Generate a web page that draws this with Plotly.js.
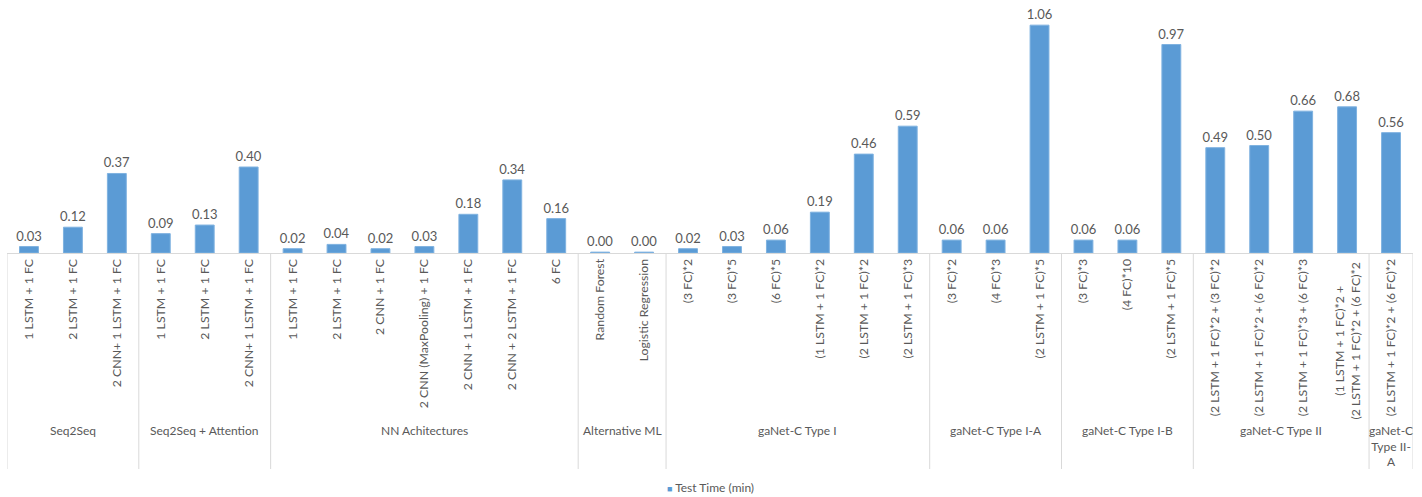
<!DOCTYPE html>
<html>
<head>
<meta charset="utf-8">
<script src="https://cdn.plot.ly/plotly-3.0.1.min.js"></script>
<style>
  html, body { margin: 0; padding: 0; background: #ffffff; }
  #chart { width: 1422px; height: 497px; }
</style>
</head>
<body>
<div id="chart"></div>
<script>
// Model architectures, grouped by family
const modelLabels = [
  '1 LSTM + 1 FC', '2 LSTM + 1 FC', '2 CNN+ 1 LSTM + 1 FC',
  '1 LSTM + 1 FC', '2 LSTM + 1 FC', '2 CNN+ 1 LSTM + 1 FC',
  '1 LSTM + 1 FC', '2 LSTM + 1 FC', '2 CNN + 1 FC', '2 CNN (MaxPooling) + 1 FC',
  '2 CNN + 1 LSTM + 1 FC', '2 CNN + 2 LSTM + 1 FC', '6 FC',
  'Random Forest', 'Logistic Regression',
  '(3 FC)*2', '(3 FC)*5', '(6 FC)*5', '(1 LSTM + 1 FC)*2', '(2 LSTM + 1 FC)*2', '(2 LSTM + 1 FC)*3',
  '(3 FC)*2', '(4 FC)*3', '(2 LSTM + 1 FC)*5',
  '(3 FC)*3', '(4 FC)*10', '(2 LSTM + 1 FC)*5',
  '(2 LSTM + 1 FC)*2 + (3 FC)*2', '(2 LSTM + 1 FC)*2 + (6 FC)*2',
  '(2 LSTM + 1 FC)*3 + (6 FC)*3',
  '(1 LSTM + 1 FC)*2 +<br>(2 LSTM + 1 FC)*2 + (6 FC)*2',
  '(2 LSTM + 1 FC)*2 + (6 FC)*2'
];

// Test time in minutes
const testTime = [
  0.03, 0.12, 0.37,
  0.09, 0.13, 0.40,
  0.02, 0.04, 0.02, 0.03, 0.18, 0.34, 0.16,
  0.004, 0.004,
  0.02, 0.03, 0.06, 0.19, 0.46, 0.59,
  0.06, 0.06, 1.06,
  0.06, 0.06, 0.97,
  0.49, 0.50, 0.66, 0.68,
  0.56
];

const groupNames = [
  'Seq2Seq', 'Seq2Seq + Attention', 'NN Achitectures', 'Alternative ML',
  'gaNet-C Type I', 'gaNet-C Type I-A', 'gaNet-C Type I-B', 'gaNet-C Type II',
  'gaNet-C<br>Type II-<br>A'
];
const groupSizes = [3, 3, 7, 2, 6, 3, 3, 4, 1];

const seriesName = 'Test Time (min)';

const textGray = '#595959';
const lineGray = '#D9D9D9';
const barBlue = '#5B9BD5';
const fontFam = 'Lato, "Open Sans", sans-serif';

const xIdx = modelLabels.map((_, i) => i);

const plotH = 253;
const toPaper = px => (plotH - px) / plotH;

const shapes = [];
const annotations = [];

// Single-line labels go on the axis; wrapped labels are centred annotations
const axisText = modelLabels.map(t => (t.indexOf('<br>') >= 0 ? '' : t));
modelLabels.forEach((t, i) => {
  if (t.indexOf('<br>') < 0) return;
  annotations.push({
    xref: 'x', yref: 'paper',
    x: i, y: toPaper(261),
    xanchor: 'center', yanchor: 'top',
    textangle: -90, align: 'center',
    text: t, showarrow: false,
    font: { family: fontFam, size: 12.3, color: textGray }
  });
});

const trace = {
  type: 'bar',
  x: xIdx,
  y: testTime,
  width: 0.43,
  name: seriesName,
  marker: { color: barBlue, line: { color: '#7FB2E0', width: 1 } },
  texttemplate: '%{y:.2f}',
  textposition: 'outside',
  constraintext: 'none',
  cliponaxis: false,
  textfont: { family: fontFam, size: 13, color: textGray },
  hoverinfo: 'x+y'
};

// Group separators and group captions under the category labels
let start = 0;
shapes.push({
  type: 'line', xref: 'x', yref: 'paper',
  x0: -0.5, x1: -0.5, y0: 0, y1: toPaper(469),
  line: { color: lineGray, width: 1 }
});
groupNames.forEach((g, k) => {
  const end = start + groupSizes[k];
  shapes.push({
    type: 'line', xref: 'x', yref: 'paper',
    x0: end - 0.5, x1: end - 0.5, y0: 0, y1: toPaper(469),
    line: { color: lineGray, width: 1 }
  });
  annotations.push({
    xref: 'x', yref: 'paper',
    x: (start + end - 1) / 2, y: toPaper(421),
    xanchor: 'center', yanchor: 'top',
    text: g, showarrow: false, align: 'center',
    font: { family: fontFam, size: 12, color: textGray }
  });
  start = end;
});

// Legend entry
annotations.push({
  xref: 'paper', yref: 'paper',
  x: 0.5, y: toPaper(487),
  xanchor: 'center', yanchor: 'middle',
  text: '<span style="color:' + barBlue + ';font-size:9px">■</span> ' + seriesName,
  showarrow: false,
  font: { family: fontFam, size: 12, color: textGray }
});

const layout = {
  width: 1422,
  height: 497,
  margin: { l: 7, r: 9, t: 0, b: 244 },
  paper_bgcolor: '#ffffff',
  plot_bgcolor: '#ffffff',
  showlegend: false,
  bargap: 0,
  xaxis: {
    range: [-0.5, modelLabels.length - 0.5],
    tickmode: 'array',
    tickvals: xIdx,
    ticktext: axisText,
    tickangle: -90,
    ticks: '',
    showgrid: false,
    zeroline: false,
    showline: true,
    linecolor: lineGray,
    linewidth: 1,
    tickfont: { family: fontFam, size: 12.3, color: textGray },
    fixedrange: true
  },
  yaxis: {
    range: [0, 1.177],
    visible: false,
    showgrid: false,
    zeroline: false,
    fixedrange: true
  },
  shapes: shapes,
  annotations: annotations
};

Plotly.newPlot('chart', [trace], layout, { displayModeBar: false, staticPlot: true });
</script>
</body>
</html>
